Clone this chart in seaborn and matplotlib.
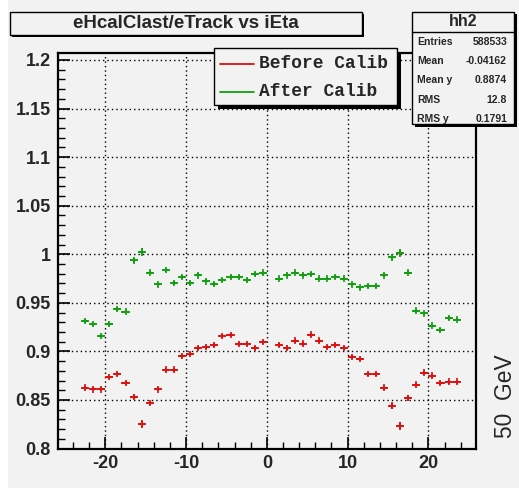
import matplotlib
matplotlib.use("Agg")
import matplotlib.pyplot as plt
from matplotlib.patches import Rectangle
from matplotlib.lines import Line2D
from matplotlib.ticker import MultipleLocator
import seaborn as sns
import pandas as pd
import numpy as np

# ---------------- data ----------------
ieta_centers = [-22.5, -21.5, -20.5, -19.5, -18.5, -17.5, -16.5, -15.5, -14.5, -13.5,
                -12.5, -11.5, -10.5, -9.5, -8.5, -7.5, -6.5, -5.5, -4.5, -3.5, -2.5,
                -1.5, -0.5,
                1.5, 2.5, 3.5, 4.5, 5.5, 6.5, 7.5, 8.5, 9.5, 10.5, 11.5, 12.5, 13.5,
                14.5, 15.5, 16.5, 17.5, 18.5, 19.5, 20.5, 21.5, 22.5, 23.5]

before_calib = [0.8627, 0.8610, 0.8610, 0.8737, 0.8765, 0.8672, 0.8531, 0.8253, 0.8469, 0.8610,
                0.8812, 0.8812, 0.8954, 0.8971, 0.9033, 0.9046, 0.9064, 0.9157, 0.9170, 0.9077,
                0.9077, 0.9033, 0.9095,
                0.9064, 0.9033, 0.9111, 0.9080, 0.9173, 0.9111, 0.9046, 0.9064, 0.9033, 0.8940,
                0.8923, 0.8765, 0.8765, 0.8627, 0.8441, 0.8235, 0.8518, 0.8658, 0.8781, 0.8751,
                0.8672, 0.8689, 0.8689]

after_calib = [0.9314, 0.9280, 0.9157, 0.9280, 0.9438, 0.9410, 0.9936, 1.0026, 0.9812, 0.9689,
               0.9840, 0.9706, 0.9765, 0.9706, 0.9782, 0.9720, 0.9693, 0.9734, 0.9768, 0.9768,
               0.9734, 0.9799, 0.9810,
               0.9750, 0.9782, 0.9812, 0.9782, 0.9796, 0.9750, 0.9750, 0.9768, 0.9750, 0.9689,
               0.9658, 0.9672, 0.9672, 0.9782, 0.9967, 1.0012, 0.9812, 0.9420, 0.9390, 0.9266,
               0.9222, 0.9342, 0.9328]

before_err = [0.002, 0.002, 0.002, 0.002, 0.002, 0.002, 0.0025, 0.004, 0.002, 0.002,
              0.002, 0.002, 0.002, 0.002, 0.002, 0.002, 0.002, 0.002, 0.002, 0.002,
              0.002, 0.002, 0.002,
              0.002, 0.002, 0.002, 0.002, 0.002, 0.002, 0.002, 0.002, 0.002, 0.002,
              0.002, 0.002, 0.002, 0.002, 0.003, 0.004, 0.003, 0.002, 0.002, 0.002,
              0.002, 0.002, 0.002]

after_err = [0.002, 0.002, 0.002, 0.002, 0.002, 0.002, 0.0025, 0.004, 0.002, 0.002,
             0.002, 0.002, 0.002, 0.002, 0.002, 0.002, 0.002, 0.002, 0.002, 0.002,
             0.002, 0.002, 0.002,
             0.002, 0.002, 0.002, 0.002, 0.002, 0.002, 0.002, 0.002, 0.002, 0.002,
             0.002, 0.002, 0.002, 0.002, 0.003, 0.004, 0.002, 0.002, 0.002, 0.002,
             0.002, 0.002, 0.002]

series_names = ["Before Calib", "After Calib"]
series_colors = ["#e01010", "#10a010"]

xtick_vals = [-20, -10, 0, 10, 20]
xtick_labels = ["-20", "-10", "0", "10", "20"]
ytick_vals = [0.8, 0.85, 0.9, 0.95, 1.0, 1.05, 1.1, 1.15, 1.2]
ytick_labels = ["0.8", "0.85", "0.9", "0.95", "1", "1.05", "1.1", "1.15", "1.2"]

title_text = "eHcalClast/eTrack vs iEta"
stats_title = "hh2"
stats_labels = ["Entries", "Mean", "Mean y", "RMS", "RMS y"]
stats_values = ["588533", "-0.04162", "0.8874", "12.8", "0.1791"]
side_text = "50  GeV"

df = pd.DataFrame({
    "ieta": ieta_centers * 2,
    "ratio": before_calib + after_calib,
    "err": before_err + after_err,
    "series": [series_names[0]] * len(ieta_centers) + [series_names[1]] * len(ieta_centers),
})

# ---------------- layout helpers ----------------
W, H = 519, 488
BG = "#f2f2f2"


def fx(x):
    return x / W


def fy(y):
    return 1 - y / H


sns.set_style("ticks")
plt.rcParams["font.family"] = ["Liberation Sans", "DejaVu Sans"]

fig = plt.figure(figsize=(W / 100, H / 100), dpi=100)
fig.patch.set_facecolor("white")
fig.add_artist(Rectangle((fx(8), 0), 1 - fx(8), 1, transform=fig.transFigure,
                         facecolor=BG, edgecolor="none", zorder=-10))

ax = fig.add_axes([fx(57.7), fy(448.5), fx(476) - fx(57.7), fy(53) - fy(448.5)])
ax.set_facecolor(BG)

# ---------------- data marks ----------------
for name, col in zip(series_names, series_colors):
    sub = df[df["series"] == name]
    ax.errorbar(sub["ieta"], sub["ratio"], xerr=0.5, yerr=sub["err"], fmt="none",
                ecolor=col, elinewidth=1.3, capsize=0, zorder=3)

sns.scatterplot(data=df, x="ieta", y="ratio", hue="series", palette=series_colors,
                hue_order=series_names, marker="+", s=22, linewidth=1.2,
                legend=False, ax=ax, zorder=4)

ax.set_xlim(-25.9, 25.9)
ax.set_ylim(0.8, 1.2072)
ax.set_xlabel("")
ax.set_ylabel("")

ax.set_xticks(xtick_vals)
ax.set_xticklabels(xtick_labels)
ax.set_yticks(ytick_vals)
ax.set_yticklabels(ytick_labels)
ax.xaxis.set_minor_locator(MultipleLocator(2))
ax.yaxis.set_minor_locator(MultipleLocator(0.01))

ax.tick_params(which="major", direction="in", length=8.6, width=1.2, color="black",
               labelsize=13, pad=5, top=False, right=False)
ax.tick_params(which="minor", direction="in", length=5, width=1.0, color="black",
               top=False, right=False)
for lab in ax.get_xticklabels() + ax.get_yticklabels():
    lab.set_fontweight("bold")

ax.grid(True, which="major", color="black", linestyle=(0, (1, 2.2)), linewidth=1.0)
ax.set_axisbelow(True)
for sp in ax.spines.values():
    sp.set_visible(True)
    sp.set_linewidth(1.6)
    sp.set_color("black")


# ---------------- boxes ----------------
def box(x0, y0, x1, y1, shadow=2.0, z=6):
    fig.add_artist(Rectangle((fx(x0 + shadow), fy(y1 + shadow)), (x1 - x0) / W, (y1 - y0) / H,
                             transform=fig.transFigure, facecolor="black",
                             edgecolor="black", linewidth=0, zorder=z))
    fig.add_artist(Rectangle((fx(x0), fy(y1)), (x1 - x0) / W, (y1 - y0) / H,
                             transform=fig.transFigure, facecolor=BG,
                             edgecolor="black", linewidth=1.0, zorder=z + 0.1))


# title box
box(10, 12, 362, 35, shadow=2.0)
fig.text(fx(186), fy(24), title_text, ha="center", va="center", fontsize=13.5,
         fontweight="bold", zorder=7)

# legend box
box(214, 48, 397, 105, shadow=3.5)
leg_rows_y = [64, 92]
for name, col, yy in zip(series_names, series_colors, leg_rows_y):
    fig.add_artist(Line2D([fx(220), fx(254)], [fy(yy), fy(yy)], transform=fig.transFigure,
                          color=col, linewidth=1.3, zorder=7))
    fig.text(fx(259), fy(yy), name, ha="left", va="center", fontsize=12.9,
             family=["Liberation Mono", "DejaVu Sans Mono"], fontweight="bold", zorder=7)

# stats box
box(412, 12, 514, 124, shadow=2.5)
fig.add_artist(Line2D([fx(412), fx(514)], [fy(32.3), fy(32.3)], transform=fig.transFigure,
                      color="black", linewidth=1.0, zorder=7))
fig.text(fx(463), fy(22), stats_title, ha="center", va="center", fontsize=11.5,
         fontweight="bold", zorder=7)
stat_rows_y = [41.7, 61.0, 80.3, 99.6, 119.0]
for lab, val, yy in zip(stats_labels, stats_values, stat_rows_y):
    fig.text(fx(417), fy(yy), lab, ha="left", va="center", fontsize=7.5,
             fontweight="bold", zorder=7)
    fig.text(fx(507), fy(yy), val, ha="right", va="center", fontsize=7.5,
             fontweight="bold", zorder=7)

# side label
fig.text(fx(505), fy(438.5), side_text, rotation=90, ha="center", va="bottom",
         fontsize=16.4, zorder=7)

fig.savefig("out.png", dpi=100, facecolor=fig.get_facecolor())
